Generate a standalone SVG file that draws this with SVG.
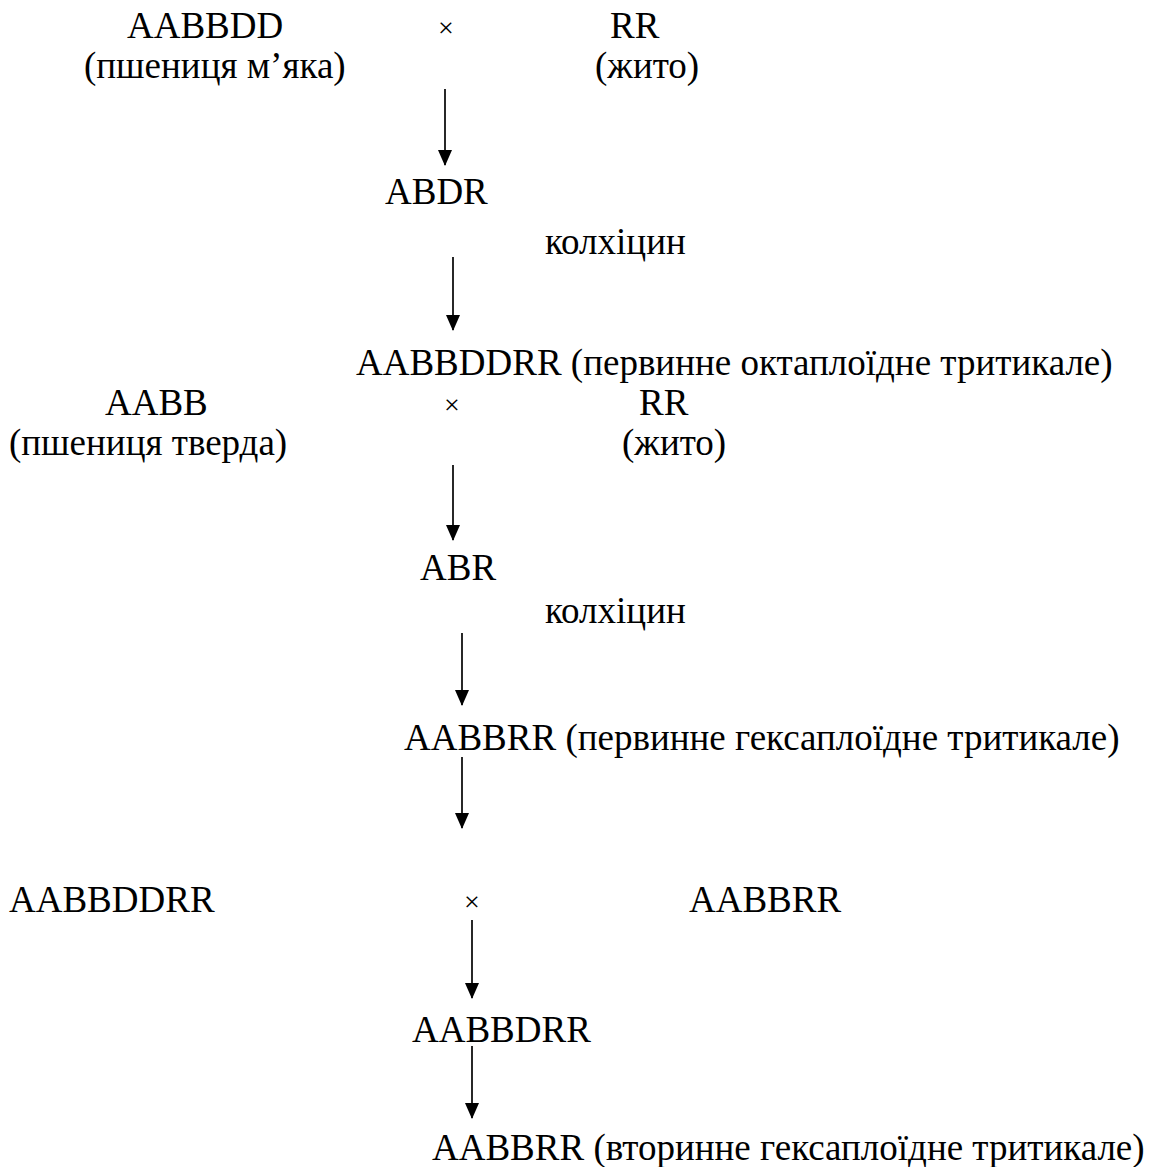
<svg xmlns="http://www.w3.org/2000/svg" width="1167" height="1167" viewBox="0 0 1167 1167">
<defs>
<style>
text{font-family:"Liberation Serif","Times New Roman",serif;font-size:37px;fill:#000}
.x{font-size:28px}
.c line{stroke:#111;stroke-width:1.8}
</style>
<marker id="ah" markerUnits="userSpaceOnUse" markerWidth="16" markerHeight="14" refX="15" refY="7" orient="auto" viewBox="0 0 16 14">
<path d="M0,0 L16,7 L0,14 Z" fill="#000"/>
</marker>
</defs>
<rect width="1167" height="1167" fill="#fff"/>
<g id="n-aabbdd"><text x="127" y="38">AABBDD</text><text x="84" y="78">(пшениця м’яка)</text></g>
<g id="cross1"><text class="x" x="446" y="37" text-anchor="middle">×</text></g>
<g id="n-rr1"><text x="610" y="38">RR</text><text x="595" y="78">(жито)</text></g>
<g id="n-abdr"><text x="385" y="204">ABDR</text></g>
<g id="n-colch1"><text x="545" y="254">колхіцин</text></g>
<g id="n-octo"><text x="356" y="375">AABBDDRR (первинне октаплоїдне тритикале)</text></g>
<g id="n-aabb"><text x="105" y="415">AABB</text><text x="9" y="455">(пшениця тверда)</text></g>
<g id="cross2"><text class="x" x="452" y="414" text-anchor="middle">×</text></g>
<g id="n-rr2"><text x="639" y="415">RR</text><text x="622" y="455">(жито)</text></g>
<g id="n-abr"><text x="420" y="580">ABR</text></g>
<g id="n-colch2"><text x="545" y="623">колхіцин</text></g>
<g id="n-hexa1"><text x="404" y="750">AABBRR (первинне гексаплоїдне тритикале)</text></g>
<g id="n-aabbddrr"><text x="9" y="912">AABBDDRR</text></g>
<g id="cross3"><text class="x" x="472" y="911" text-anchor="middle">×</text></g>
<g id="n-aabbrr"><text x="689" y="912">AABBRR</text></g>
<g id="n-aabbdrr"><text x="412" y="1042">AABBDRR</text></g>
<g id="n-hexa2"><text x="432" y="1160">AABBRR (вторинне гексаплоїдне тритикале)</text></g>
<g id="connectors" class="c">
<line x1="445" y1="89" x2="445" y2="165" marker-end="url(#ah)"/>
<line x1="453" y1="257" x2="453" y2="330" marker-end="url(#ah)"/>
<line x1="453" y1="465" x2="453" y2="540" marker-end="url(#ah)"/>
<line x1="462" y1="633" x2="462" y2="705" marker-end="url(#ah)"/>
<line x1="462" y1="757" x2="462" y2="828" marker-end="url(#ah)"/>
<line x1="472" y1="920" x2="472" y2="998" marker-end="url(#ah)"/>
<line x1="472" y1="1046" x2="472" y2="1118" marker-end="url(#ah)"/>
</g>
</svg>
